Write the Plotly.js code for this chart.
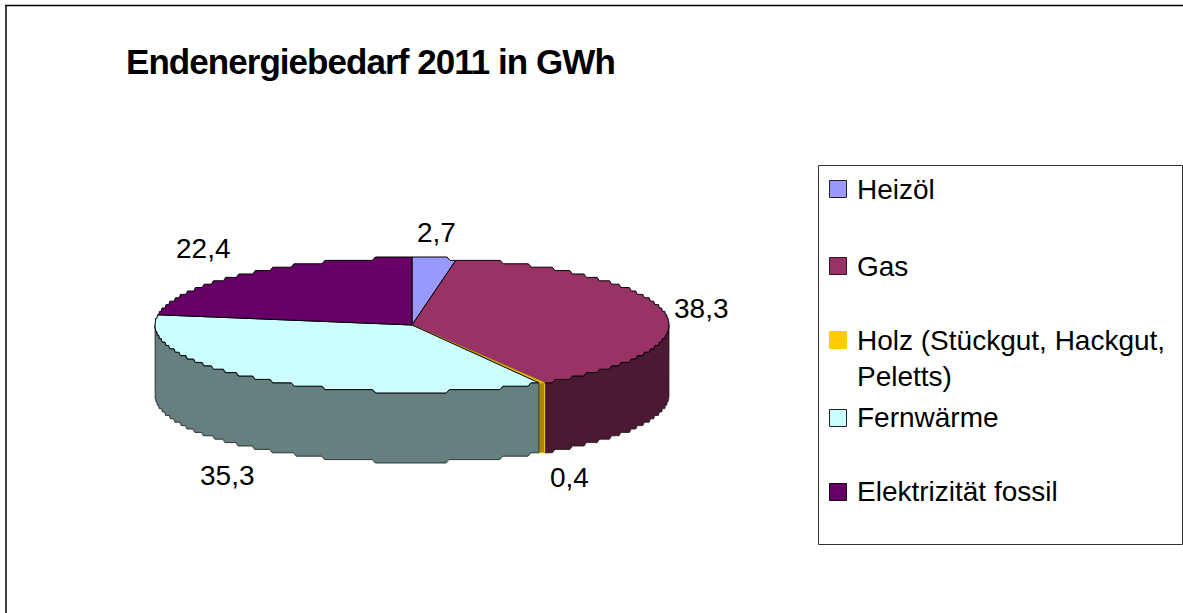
<!DOCTYPE html>
<html>
<head>
<meta charset="utf-8">
<script src="https://cdn.plot.ly/plotly-3.0.1.min.js"></script>
<style>
html,body{margin:0;padding:0;background:#fff}
#chart{width:1183px;height:613px}
.gtitle{letter-spacing:-0.95px}
</style>
</head>
<body>
<div id="chart"></div>
<script>
// Final energy demand 2011, in GWh
const categories = ["Heizöl", "Gas", "Holz (Stückgut, Hackgut,<br>Peletts)", "Fernwärme", "Elektrizität fossil"];
const values = [2.7, 38.3, 0.4, 35.3, 22.4];
const topColors = ["#9999FF", "#993366", "#FFCC00", "#CCFFFF", "#660066"];
const wallColors = ["#4C4C80", "#4C1933", "#A88600", "#668080", "#330033"];
const edgeColors = ["#000", "#000", "#C9A000", "#000", "#000"];

const W = 1183, H = 613;
// Disc geometry on the page: centre, radius, tilt and wall height
const CX = 412, CY = 325, R = 257, TILT = 67 / 257, DEPTH = 70 / 257;
const STEP = 3.4 / 257;   // vertical raster of the rim

const toX = px => (px - CX) / R;
const toY = py => (CY - py) / R;

// One rim point at angle a (clockwise from 12 o'clock)
function rim(a, drop) {
  const y = Math.cos(a) * TILT;
  return [Math.sin(a), Math.round(y / STEP) * STEP - drop];
}
function arc(a0, a1, drop) {
  const n = Math.max(2, Math.ceil(Math.abs(a1 - a0) / 0.012));
  const pts = [];
  for (let i = 0; i <= n; i++) pts.push(rim(a0 + (a1 - a0) * i / n, drop));
  return pts;
}

const total = values.reduce((s, v) => s + v, 0);
const starts = [];
values.reduce((acc, v, i) => { starts[i] = acc; return acc + v; }, 0);
const angle = v => v / total * 2 * Math.PI;

const traces = [];

// Visible side walls: only the front half of the disc (90 to 270 degrees)
values.forEach((v, i) => {
  const a0 = Math.max(angle(starts[i]), Math.PI / 2);
  const a1 = Math.min(angle(starts[i] + v), 3 * Math.PI / 2);
  if (a1 <= a0) return;
  const top = arc(a0, a1, 0), bottom = arc(a1, a0, DEPTH);
  const pts = top.concat(bottom, [top[0]]);
  traces.push({
    type: "scatter", mode: "lines", fill: "toself", fillcolor: wallColors[i],
    x: pts.map(p => p[0]), y: pts.map(p => p[1]),
    line: {color: i === 2 ? "#FFCC00" : "#111", width: i === 2 ? 1 : 0.8},
    name: categories[i] + " Wand", hoverinfo: "skip", showlegend: false
  });
});

// Top face of each slice
values.forEach((v, i) => {
  const pts = [[0, 0]].concat(arc(angle(starts[i]), angle(starts[i] + v), 0), [[0, 0]]);
  traces.push({
    type: "scatter", mode: "lines", fill: "toself", fillcolor: topColors[i],
    x: pts.map(p => p[0]), y: pts.map(p => p[1]),
    line: {color: edgeColors[i], width: i === 2 ? 1.2 : 1},
    name: categories[i], hoverinfo: "skip", showlegend: false
  });
});

// Legend swatches
const legendRows = [189, 266, 340, 418, 492];
traces.push({
  type: "scatter", mode: "markers",
  x: legendRows.map(() => toX(838)), y: legendRows.map(toY),
  marker: {symbol: "square", size: 17, color: topColors,
           line: {color: ["#222", "#3A0F25", "#FFCC00", "#222", "#1A001A"], width: 1}},
  hoverinfo: "skip", showlegend: false
});

const FONT = "Liberation Sans, Arial, sans-serif";
const fmt = v => v.toFixed(1).replace(".", ",");

// Data labels around the disc
const labelPlaces = [[436, 232], [701, 308], [569, 477], [227, 475], [203, 249]];
const annotations = values.map((v, i) => ({
  xref: "paper", yref: "paper", x: labelPlaces[i][0] / W, y: 1 - labelPlaces[i][1] / H,
  xanchor: "center", yanchor: "middle", showarrow: false, text: fmt(v),
  font: {family: FONT, size: 28, color: "#000"}
}));

// Legend texts
const legendTextY = [189, 266, 358, 417, 491];
categories.forEach((c, i) => annotations.push({
  xref: "paper", yref: "paper", x: 855 / W, y: 1 - legendTextY[i] / H,
  xanchor: "left", yanchor: "middle", align: "left", showarrow: false, text: c,
  font: {family: FONT, size: 28, color: "#000"}
}));

const layout = {
  width: W, height: H,
  margin: {l: 0, r: 0, t: 0, b: 0},
  paper_bgcolor: "#fff", plot_bgcolor: "#fff",
  showlegend: false,
  title: {
    text: "<b>Endenergiebedarf 2011 in GWh</b>",
    x: 126 / W, xref: "paper", xanchor: "left",
    y: 1 - 62 / H, yref: "paper", yanchor: "middle",
    font: {family: FONT, size: 35, color: "#000"}
  },
  xaxis: {visible: false, fixedrange: true, range: [toX(0), toX(W)]},
  yaxis: {visible: false, fixedrange: true, range: [toY(H), toY(0)]},
  annotations,
  shapes: [
    // outer chart frame, left and top
    {type: "line", xref: "paper", yref: "paper", x0: 6 / W, x1: 6 / W, y0: 0, y1: 1 - 5 / H,
     line: {color: "#000", width: 1.5}},
    {type: "line", xref: "paper", yref: "paper", x0: 5 / W, x1: 1, y0: 1 - 5.5 / H, y1: 1 - 5.5 / H,
     line: {color: "#000", width: 1.5}},
    // legend box
    {type: "rect", xref: "paper", yref: "paper", x0: 818.5 / W, x1: 1182.5 / W,
     y0: 1 - 544.5 / H, y1: 1 - 165.5 / H, line: {color: "#333", width: 1}, fillcolor: "rgba(0,0,0,0)"}
  ]
};

Plotly.newPlot("chart", traces, layout, {displayModeBar: false, staticPlot: true});
</script>
</body>
</html>
